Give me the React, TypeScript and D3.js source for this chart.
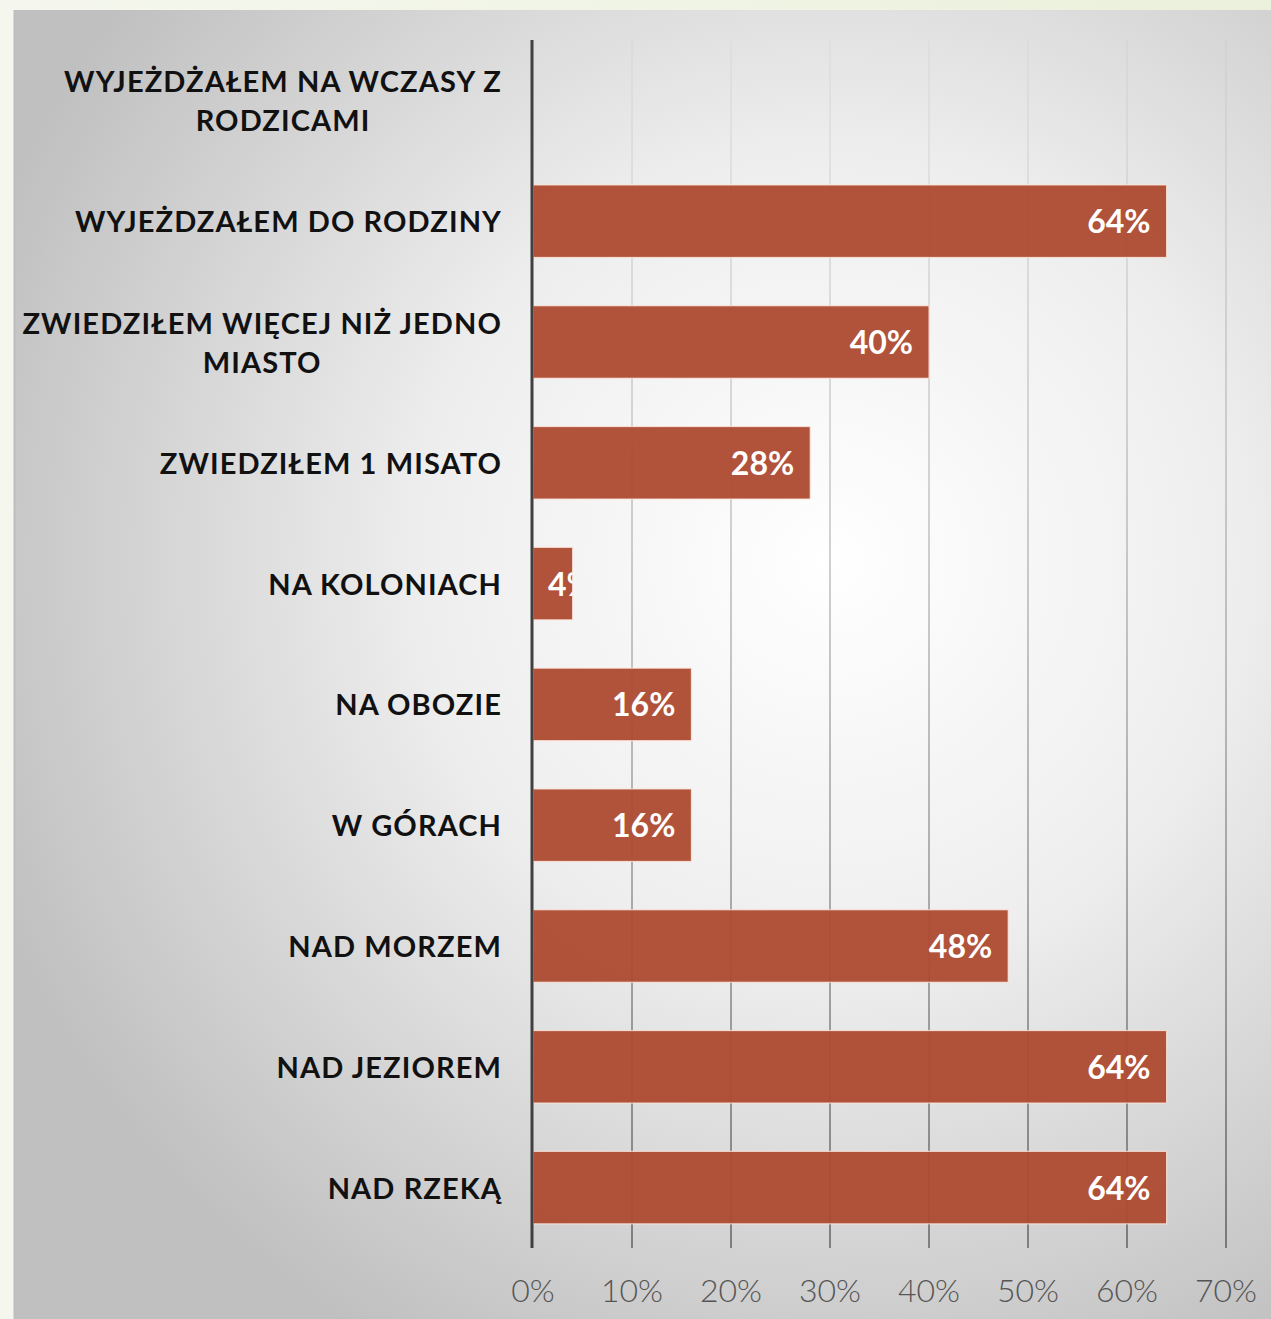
import React, { useEffect, useRef } from 'react';
import * as d3 from 'd3';

// categories top -> bottom, values in percent
const categories: string[] = [
  'WYJEŻDŻAŁEM NA WCZASY Z RODZICAMI',
  'WYJEŻDZAŁEM DO RODZINY',
  'ZWIEDZIŁEM WIĘCEJ NIŻ JEDNO MIASTO',
  'ZWIEDZIŁEM 1 MISATO',
  'NA KOLONIACH',
  'NA OBOZIE',
  'W GÓRACH',
  'NAD MORZEM',
  'NAD JEZIOREM',
  'NAD RZEKĄ',
];
const values: (number | null)[] = [null, 64, 40, 28, 4, 16, 16, 48, 64, 64];
const tickValues: number[] = [0, 10, 20, 30, 40, 50, 60, 70];

const W = 1271;
const H = 1319;
const FONT = 'Lato, "Open Sans", sans-serif';

const App = () => {
  const ref = useRef<SVGSVGElement>(null);

  useEffect(() => {
    document.body.style.margin = '0';
    const svg = d3.select(ref.current);
    svg.selectAll('*').remove();

    const margin = { top: 40, right: 45, bottom: 71, left: 533 };
    const x = d3.scaleLinear().domain([0, 70]).range([margin.left, W - margin.right]);
    const y = d3
      .scaleBand<string>()
      .domain(categories)
      .range([margin.top, H - margin.bottom])
      .paddingInner(0.4)
      .paddingOuter(0.2);

    const defs = svg.append('defs');
    const bg = defs
      .append('radialGradient')
      .attr('id', 'bg')
      .attr('gradientUnits', 'userSpaceOnUse')
      .attr('cx', 830)
      .attr('cy', 560)
      .attr('r', 900);
    bg.append('stop').attr('offset', '0%').attr('stop-color', '#ffffff');
    bg.append('stop').attr('offset', '45%').attr('stop-color', '#eeeeee');
    bg.append('stop').attr('offset', '100%').attr('stop-color', '#c0c0c0');

    const outer = defs.append('linearGradient').attr('id', 'outer').attr('x1', 0).attr('x2', 1);
    outer.append('stop').attr('offset', '0%').attr('stop-color', '#f5f7ee');
    outer.append('stop').attr('offset', '100%').attr('stop-color', '#ebf1dc');

    const grid = defs
      .append('linearGradient')
      .attr('id', 'grid')
      .attr('gradientUnits', 'userSpaceOnUse')
      .attr('x1', 0)
      .attr('x2', 0)
      .attr('y1', margin.top)
      .attr('y2', H - margin.bottom);
    grid.append('stop').attr('offset', '0%').attr('stop-color', '#000').attr('stop-opacity', 0.02);
    grid.append('stop').attr('offset', '100%').attr('stop-color', '#000').attr('stop-opacity', 0.4);

    // background
    svg.append('rect').attr('width', W).attr('height', H).attr('fill', 'url(#outer)');
    svg.append('rect').attr('x', 14).attr('y', 10).attr('width', W - 14).attr('height', H - 10).attr('fill', 'url(#bg)');
    svg.append('line').attr('x1', 14.5).attr('x2', 14.5).attr('y1', 10).attr('y2', H).attr('stroke', '#bdbdbd').attr('stroke-width', 2);

    // gridlines
    svg
      .append('g')
      .selectAll('line')
      .data(tickValues.slice(1))
      .enter()
      .append('line')
      .attr('x1', (d) => x(d))
      .attr('x2', (d) => x(d))
      .attr('y1', margin.top)
      .attr('y2', H - margin.bottom)
      .attr('stroke', 'url(#grid)')
      .attr('stroke-width', 2);

    // bars (slightly translucent so the gridlines show through faintly)
    const data = categories.map((c, i) => ({ c, v: values[i] }));
    const bars = data.filter((d) => d.v !== null) as { c: string; v: number }[];

    svg
      .append('g')
      .selectAll('rect')
      .data(bars)
      .enter()
      .append('rect')
      .attr('x', x(0))
      .attr('y', (d) => y(d.c)!)
      .attr('width', (d) => x(d.v) - x(0))
      .attr('height', y.bandwidth())
      .attr('fill', '#ae4b32')
      .attr('fill-opacity', 0.96)
      .attr('stroke', 'rgba(255,235,225,0.75)')
      .attr('stroke-width', 1.2);

    // axis line
    svg
      .append('line')
      .attr('x1', x(0) - 1)
      .attr('x2', x(0) - 1)
      .attr('y1', margin.top)
      .attr('y2', H - margin.bottom)
      .attr('stroke', '#404040')
      .attr('stroke-width', 3);

    // tick labels
    svg
      .append('g')
      .selectAll('text')
      .data(tickValues)
      .enter()
      .append('text')
      .attr('x', (d) => x(d))
      .attr('y', 1302)
      .attr('text-anchor', 'middle')
      .attr('font-family', FONT)
      .attr('font-weight', 300)
      .attr('font-size', 32)
      .attr('fill', '#555')
      .text((d) => `${d}%`);

    // value labels, clipped to their bar
    bars.forEach((d, i) => {
      const x0 = x(0);
      const x1 = x(d.v);
      const y0 = y(d.c)!;
      defs
        .append('clipPath')
        .attr('id', `clip${i}`)
        .append('rect')
        .attr('x', x0)
        .attr('y', y0)
        .attr('width', x1 - x0)
        .attr('height', y.bandwidth());
      const t = svg
        .append('text')
        .attr('clip-path', `url(#clip${i})`)
        .attr('y', y0 + y.bandwidth() / 2 + 12)
        .attr('font-family', FONT)
        .attr('font-weight', 700)
        .attr('font-size', 32)
        .attr('fill', '#fff')
        .text(`${d.v}%`);
      const tw = (t.node() as SVGTextElement).getComputedTextLength();
      t.attr('x', Math.max(x1 - 16 - tw, x0 + 15));
    });

    // category labels, wrapped and centered on their widest line, right edge at 502
    const labelRight = 502;
    const lineH = 39;
    categories.forEach((c) => {
      const g = svg.append('g');
      const mk = (s: string) =>
        g
          .append('text')
          .attr('font-family', FONT)
          .attr('font-weight', 700)
          .attr('font-size', 29)
          .attr('letter-spacing', 1.1)
          .attr('fill', '#111')
          .attr('text-anchor', 'middle')
          .text(s);
      // wrap words into lines no wider than 500
      const words = c.split(' ');
      const lines: string[] = [];
      let cur = '';
      const probe = mk('');
      words.forEach((w) => {
        const test = cur ? cur + ' ' + w : w;
        probe.text(test);
        if ((probe.node() as SVGTextElement).getComputedTextLength() > 500 && cur) {
          lines.push(cur);
          cur = w;
        } else cur = test;
      });
      lines.push(cur);
      probe.remove();
      const texts = lines.map((l) => mk(l));
      const maxW = d3.max(texts, (t) => (t.node() as SVGTextElement).getComputedTextLength()) || 0;
      const cy = y(c)! + y.bandwidth() / 2;
      texts.forEach((t, k) => {
        t.attr('x', labelRight - maxW / 2).attr('y', cy + 11 + (k - (lines.length - 1) / 2) * lineH);
      });
    });
  }, []);

  return <svg ref={ref} width={W} height={H} style={{ display: 'block' }} />;
};

export default App;
